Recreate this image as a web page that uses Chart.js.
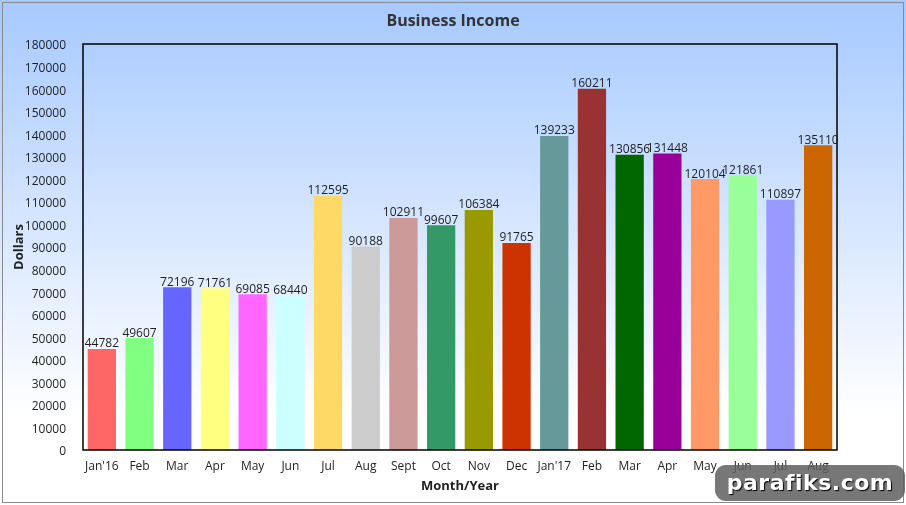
<!DOCTYPE html>
<html>
<head>
<meta charset="utf-8">
<title>Business Income</title>
<script src="https://cdn.jsdelivr.net/npm/chart.js@4.4.1/dist/chart.umd.min.js"></script>
<style>
    body { margin: 0; background: #fff; }
    #wrap { position: relative; width: 906px; height: 505px; }
    #stamp {
        position: absolute; left: 715px; top: 465px; width: 190px; height: 36px;
        background: rgba(95, 95, 95, 0.85); border-radius: 11px;
        color: #fff; font: bold 22px "DejaVu Sans", sans-serif; letter-spacing: 0.5px;
        text-align: center; line-height: 36px; text-shadow: 1px 1px 1px #000;
    }
</style>
</head>
<body>
<div id="wrap">
    <canvas id="barChart" width="906" height="505"></canvas>
    <div id="stamp">parafiks.com</div>
</div>
<script>
// Chart data
const months = ["Jan'16", 'Feb', 'Mar', 'Apr', 'May', 'Jun', 'Jul', 'Aug', 'Sept', 'Oct', 'Nov', 'Dec',
    "Jan'17", 'Feb', 'Mar', 'Apr', 'May', 'Jun', 'Jul', 'Aug'];
const income = [44782, 49607, 72196, 71761, 69085, 68440, 112595, 90188, 102911, 99607, 106384, 91765,
    139233, 160211, 130856, 131448, 120104, 121861, 110897, 135110];
const barColors = ['#FF6666', '#80FF80', '#6666FF', '#FFFF80', '#FF66FF', '#CCFFFF', '#FFD966', '#CCCCCC',
    '#CC9999', '#339966', '#999900', '#CC3300', '#669999', '#993333', '#006600', '#990099',
    '#FF9966', '#99FF99', '#9999FF', '#CC6600'];

const textColor = '#1e1e1e';
const fontFamily = '"Open Sans", sans-serif';

// Background gradient, outer frame, plot frame and value labels
const backdrop = {
    id: 'backdrop',
    beforeDraw(chart) {
        const ctx = chart.ctx;
        const grad = ctx.createLinearGradient(0, 0, 0, chart.height);
        grad.addColorStop(0, '#A6C9FF');
        grad.addColorStop(0.82, '#FFFFFF');
        grad.addColorStop(1, '#FFFFFF');
        ctx.save();
        ctx.fillStyle = grad;
        ctx.fillRect(0, 0, chart.width, chart.height);
        ctx.strokeStyle = '#8a8a8a';
        ctx.lineWidth = 1;
        ctx.strokeRect(2.5, 2.5, chart.width - 5, chart.height - 5);
        ctx.restore();
    },
    afterDatasetsDraw(chart) {
        const ctx = chart.ctx;
        const a = chart.chartArea;
        ctx.save();
        ctx.strokeStyle = '#000';
        ctx.lineWidth = 1.5;
        ctx.strokeRect(a.left, a.top, a.right - a.left, a.bottom - a.top);

        ctx.fillStyle = textColor;
        ctx.font = '12px ' + fontFamily;
        ctx.textAlign = 'center';
        ctx.textBaseline = 'bottom';
        chart.getDatasetMeta(0).data.forEach((bar, i) => {
            ctx.fillText(income[i], bar.x, bar.y + 1);
        });
        ctx.restore();
    }
};

const ctx = document.getElementById('barChart').getContext('2d');
new Chart(ctx, {
    type: 'bar',
    data: {
        labels: months,
        datasets: [{
            label: 'Business Income',
            data: income,
            backgroundColor: barColors,
            borderWidth: 0,
            barPercentage: 0.75,
            categoryPercentage: 1
        }]
    },
    options: {
        responsive: false,
        animation: false,
        plugins: {
            legend: { display: false },
            tooltip: { enabled: false },
            title: {
                display: true,
                text: 'Business Income',
                color: '#333',
                font: { family: fontFamily, size: 16, weight: 'bold' },
                padding: { top: 12, bottom: 12.8 }
            }
        },
        scales: {
            x: {
                grid: { display: false },
                border: { display: false },
                ticks: { color: textColor, font: { family: fontFamily, size: 12 }, padding: 1, maxRotation: 0, autoSkip: false },
                title: {
                    display: true, text: 'Month/Year', color: '#222',
                    font: { family: fontFamily, size: 13, weight: 'bold' },
                    padding: { top: 4, bottom: 11 }
                },
                afterFit(scale) { scale.height = 55; }
            },
            y: {
                min: 0,
                max: 180000,
                grid: { display: false },
                border: { display: false },
                ticks: {
                    stepSize: 10000, color: textColor, font: { family: fontFamily, size: 12 }, padding: 9,
                    labelOffset: 2,
                    callback: value => String(value)
                },
                title: {
                    display: true, text: 'Dollars', color: '#222',
                    font: { family: fontFamily, size: 13, weight: 'bold' },
                    padding: { top: 11, bottom: 4 }
                },
                afterFit(scale) { scale.width = 83; }
            },
            // empty right axis, keeps the plot area off the right edge
            spacer: {
                position: 'right',
                grid: { display: false },
                border: { display: false },
                ticks: { display: false },
                afterFit(scale) { scale.width = 69; }
            }
        }
    },
    plugins: [backdrop]
});
</script>
</body>
</html>
